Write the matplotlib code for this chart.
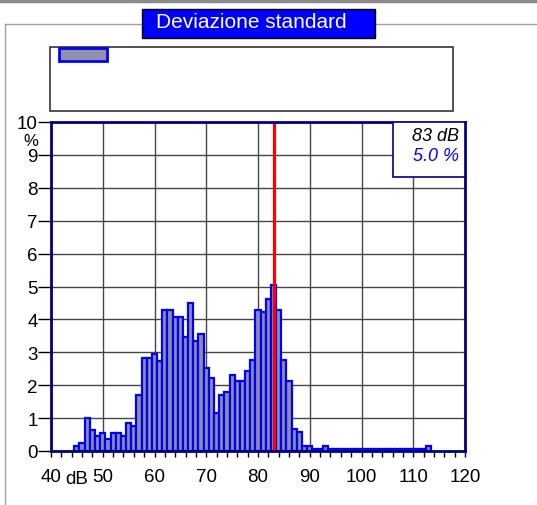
import matplotlib
matplotlib.use("Agg")
import matplotlib.pyplot as plt
from matplotlib.lines import Line2D
from matplotlib.patches import Rectangle
from matplotlib.ticker import FixedLocator
import numpy as np

# Istogramma livelli (dB) - percentuale per classe di 1 dB
db_classi = list(range(45, 114))
percentuali = [
    0.15, 0.25, 1.00, 0.65, 0.45, 0.55, 0.35, 0.55, 0.55, 0.45,   # 45-54
    0.85, 0.75, 1.70, 2.84, 2.84, 2.94, 2.74, 4.29, 4.29, 4.08,   # 55-64
    4.08, 3.47, 4.49, 3.34, 3.57, 2.51, 2.21, 1.17, 1.69, 1.80,   # 65-74
    2.32, 2.12, 2.12, 2.43, 2.76, 4.29, 4.22, 4.61, 5.04, 4.29,   # 75-84
    2.76, 2.12, 0.66, 0.57, 0.15, 0.15, 0.05, 0.05, 0.15, 0.05,   # 85-94
    0.05, 0.05, 0.05, 0.05, 0.05, 0.05, 0.05, 0.05, 0.05, 0.05,   # 95-104
    0.05, 0.05, 0.05, 0.05, 0.05, 0.05, 0.05, 0.05, 0.15,         # 105-113
]
livello_marcato = 83
percentuale_marcata = 5.0
x_ticks = [40, 50, 60, 70, 80, 90, 100, 110, 120]
x_minor = list(range(40, 121, 2))
y_ticks = list(range(0, 11))

FONT = ["Liberation Sans Narrow", "Liberation Sans", "DejaVu Sans"]
plt.rcParams["font.family"] = FONT

W, H = 537, 506
fig = plt.figure(figsize=(W / 100, H / 100), dpi=100)


def fx(x):
    return x / W


def fy(y):
    return 1 - y / H


# cornice esterna
fig.add_artist(Line2D([0, 1], [fy(2), fy(2)], transform=fig.transFigure, color="#8a8a8a", lw=2.5))
fig.add_artist(Line2D([fx(5), fx(5)], [fy(25), 0], transform=fig.transFigure, color="#a0a0a0", lw=1))
fig.add_artist(Line2D([fx(5), 1], [fy(25), fy(25)], transform=fig.transFigure, color="#a0a0a0", lw=1))

# titolo
fig.add_artist(Rectangle((fx(142), fy(39)), fx(375) - fx(142), fy(10) - fy(39),
                         transform=fig.transFigure, facecolor="#0000ff", edgecolor="black", lw=1, zorder=3))
fig.text(fx(251), fy(23), "Deviazione standard", color="white", fontsize=15,
         ha="center", va="center", zorder=4)

# box legenda
fig.add_artist(Rectangle((fx(50), fy(112)), fx(453) - fx(50), fy(48) - fy(112),
                         transform=fig.transFigure, facecolor="white", edgecolor="#333333", lw=1.2))
fig.add_artist(Rectangle((fx(59), fy(62)), fx(107) - fx(59), fy(49) - fy(62),
                         transform=fig.transFigure, facecolor="#9090a8", edgecolor="#0000ff", lw=2))

ax = fig.add_axes([fx(51), 1 - 452 / H, (465 - 51) / W, (452 - 123) / H])
ax.bar(db_classi, percentuali, width=1.0, align="center", facecolor="#8e8ea2",
       edgecolor="#0000ff", linewidth=1.6, zorder=2)
ax.axvline(livello_marcato, color="red", lw=2.3, zorder=4)

ax.set_xlim(40, 120)
ax.set_ylim(0, 10)
ax.set_xticks(x_ticks)
ax.xaxis.set_minor_locator(FixedLocator(x_minor))
ax.set_yticks(y_ticks)
ax.set_xticklabels([str(t) for t in x_ticks])
ax.tick_params(axis="x", which="both", direction="out", length=4, width=1, pad=8, labelsize=13.5)
ax.tick_params(axis="y", direction="out", length=9.5, width=1, pad=0, labelsize=13.5)
ax.grid(True, which="major", color="#454545", lw=1, zorder=0)
for s in ax.spines.values():
    s.set_color("#000080")
    s.set_linewidth(2)
    s.set_zorder(5)

ax.text(45.0, -0.058, "dB", transform=ax.get_xaxis_transform(), ha="center", va="top", fontsize=13.5)
fig.text(fx(31), fy(142), "%", ha="center", va="center", fontsize=12)

# riquadro valore
ax.add_patch(Rectangle((0.826, 0.833), 0.174, 0.167, transform=ax.transAxes,
                       facecolor="white", edgecolor="#000080", lw=1.2, zorder=6))
ax.text(0.985, 0.96, f"{livello_marcato} dB", transform=ax.transAxes, ha="right", va="center",
        fontsize=13, style="italic", color="black", zorder=7)
ax.text(0.985, 0.897, f"{percentuale_marcata:.1f} %", transform=ax.transAxes, ha="right", va="center",
        fontsize=13, style="italic", color="#0000ff", zorder=7)

fig.savefig("out.png", dpi=100)
